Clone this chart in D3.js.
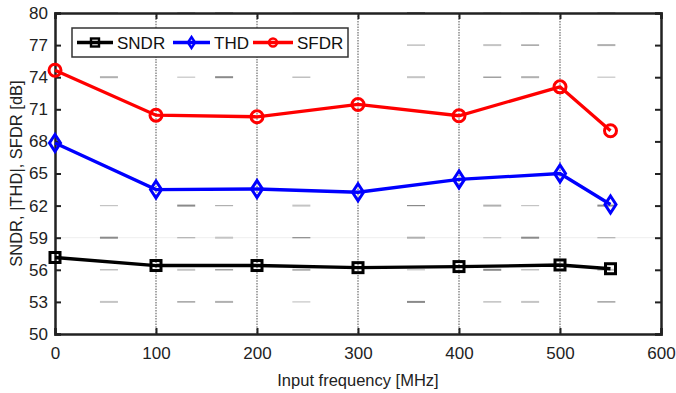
<!DOCTYPE html>
<html>
<head>
<meta charset="utf-8">
<script src="https://cdn.jsdelivr.net/npm/d3@7"></script>
<style>
  body { margin: 0; background: #fff; }
  text { font-family: "Liberation Sans", Arial, sans-serif; }
</style>
</head>
<body>
<svg id="chart" width="676" height="393"></svg>
<script>
// values
var freqs = [0, 100, 200, 300, 400, 500, 550];
var sndr = [57.15, 56.4, 56.4, 56.2, 56.3, 56.45, 56.1];
var thd = [67.85, 63.5, 63.55, 63.25, 64.45, 65.0, 62.1];
var sfdr = [74.65, 70.45, 70.3, 71.45, 70.4, 73.1, 69.0];
var xTicks = [0, 100, 200, 300, 400, 500, 600];
var yTicks = [50, 53, 56, 59, 62, 65, 68, 71, 74, 77, 80];
// rows where the dashed horizontal grid shows, and where its dashes start (MHz)
var gridRows = [80, 77, 74, 62, 59, 56, 53];
var dashStarts = [44.5, 121, 158.5, 235, 348.5, 424, 461.5, 537];

var series = [
    {name: "SNDR", values: sndr, color: "#000", marker: "square"},
    {name: "THD", values: thd, color: "#0000ff", marker: "diamond"},
    {name: "SFDR", values: sfdr, color: "#ff0000", marker: "circle"}
];

var svg = d3.select("#chart");
var margin = {top: 13, right: 15, bottom: 59, left: 55},
    width = 676 - margin.left - margin.right,
    height = 393 - margin.top - margin.bottom;

var x = d3.scaleLinear().domain([0, 600]).range([0, width]);
var y = d3.scaleLinear().domain([50, 80]).range([height, 0]);

var g = svg.append("g")
    .attr("transform", "translate(" + margin.left + "," + margin.top + ")");

// faint solid line at 59
g.append("line")
    .attr("x1", 0).attr("x2", width)
    .attr("y1", y(59)).attr("y2", y(59))
    .attr("stroke", "#eee").attr("stroke-width", 1);

// broken horizontal grid
var shades = ["#c4c4c4", "#8a8a8a", "#b0b0b0"];
gridRows.forEach(function (r, i) {
    g.selectAll(null)
        .data(dashStarts)
        .enter().append("line")
        .attr("x1", function (d) {return x(d);})
        .attr("x2", function (d) {return x(d) + 18;})
        .attr("y1", y(r)).attr("y2", y(r))
        .attr("stroke", function (d, j) {return shades[(i + j) % 3];})
        .attr("stroke-width", function (d, j) {return (i + j) % 2 ? 1.2 : 2;});
});

// vertical dotted grid
g.selectAll(".vgrid")
    .data(xTicks.slice(1, 6))
    .enter().append("line")
    .attr("class", "vgrid")
    .attr("x1", function (d) {return x(d);})
    .attr("x2", function (d) {return x(d);})
    .attr("y1", 0).attr("y2", height)
    .attr("stroke", "#777")
    .attr("stroke-width", 1.3)
    .attr("stroke-dasharray", "1.5,1.2");

// axes with inward ticks
var tickLen = 6;
var xAxis = g.append("g")
    .attr("transform", "translate(0," + height + ")")
    .call(d3.axisBottom(x).tickValues(xTicks).tickSize(-tickLen).tickPadding(11));
var xTop = g.append("g")
    .call(d3.axisTop(x).tickValues(xTicks).tickSize(-tickLen).tickFormat(""));
var yAxis = g.append("g")
    .call(d3.axisLeft(y).tickValues(yTicks).tickSize(-tickLen).tickPadding(7));
var yRight = g.append("g")
    .attr("transform", "translate(" + width + ",0)")
    .call(d3.axisRight(y).tickValues(yTicks).tickSize(-tickLen).tickFormat(""));

[xAxis, xTop, yAxis, yRight].forEach(function (a) {
    a.select(".domain").attr("stroke", "#222").attr("stroke-width", 2.5);
    a.selectAll(".tick line").attr("stroke", "#222").attr("stroke-width", 2);
    a.selectAll(".tick text")
        .attr("font-size", 17)
        .attr("fill", "#222")
        .style("font-family", "'Liberation Sans', Arial, sans-serif");
});
xAxis.selectAll(".tick text").attr("dy", "0.85em");

// axis titles
svg.append("text")
    .attr("x", margin.left + width / 2)
    .attr("y", 386)
    .attr("text-anchor", "middle")
    .attr("font-size", 16.5)
    .attr("fill", "#222")
    .text("Input frequency [MHz]");

svg.append("text")
    .attr("transform", "translate(22," + (margin.top + height / 2) + ") rotate(-90)")
    .attr("text-anchor", "middle")
    .attr("font-size", 16.5)
    .attr("fill", "#222")
    .text("SNDR, |THD|, SFDR [dB]");

function drawMarker(sel, type, size, color, sw) {
    if (type === "square") {
        sel.append("rect")
            .attr("x", -size / 2).attr("y", -size / 2)
            .attr("width", size).attr("height", size)
            .attr("fill", "none").attr("stroke", color).attr("stroke-width", sw);
    } else if (type === "diamond") {
        var w = size * 0.65, h = size;
        sel.append("path")
            .attr("d", "M0," + (-h / 2) + "L" + (w / 2) + ",0L0," + (h / 2) + "L" + (-w / 2) + ",0Z")
            .attr("fill", "none").attr("stroke", color).attr("stroke-width", sw);
    } else {
        sel.append("circle")
            .attr("r", size / 2)
            .attr("fill", "none").attr("stroke", color).attr("stroke-width", sw);
    }
}

var line = d3.line()
    .x(function (d, i) {return x(freqs[i]);})
    .y(function (d) {return y(d);});

series.forEach(function (s) {
    g.append("path")
        .datum(s.values)
        .attr("d", line)
        .attr("fill", "none")
        .attr("stroke", s.color)
        .attr("stroke-width", 3.3);

    g.selectAll(null)
        .data(s.values)
        .enter().append("g")
        .attr("transform", function (d, i) {return "translate(" + x(freqs[i]) + "," + y(d) + ")";})
        .each(function () {
            drawMarker(d3.select(this), s.marker, s.marker === "diamond" ? 17 : (s.marker === "circle" ? 12 : 10), s.color, 3);
        });
});

// legend
var legend = svg.append("g").attr("transform", "translate(72,28)");
legend.append("rect")
    .attr("width", 276).attr("height", 29)
    .attr("fill", "#fff")
    .attr("stroke", "#333").attr("stroke-width", 1.5);

var legX = [5, 101, 181];
var legW = [36, 37, 40];
series.forEach(function (s, i) {
    var e = legend.append("g").attr("transform", "translate(" + legX[i] + ",14.5)");
    e.append("line")
        .attr("x1", 0).attr("x2", legW[i])
        .attr("stroke", s.color).attr("stroke-width", 3.3);
    var m = e.append("g").attr("transform", "translate(" + legW[i] / 2 + ",0)");
    drawMarker(m, s.marker, s.marker === "diamond" ? 11 : 8, s.color, 2.4);
    e.append("text")
        .attr("x", legW[i] + 4)
        .attr("y", 6)
        .attr("font-size", 17)
        .attr("fill", "#111")
        .text(s.name);
});
</script>
</body>
</html>
